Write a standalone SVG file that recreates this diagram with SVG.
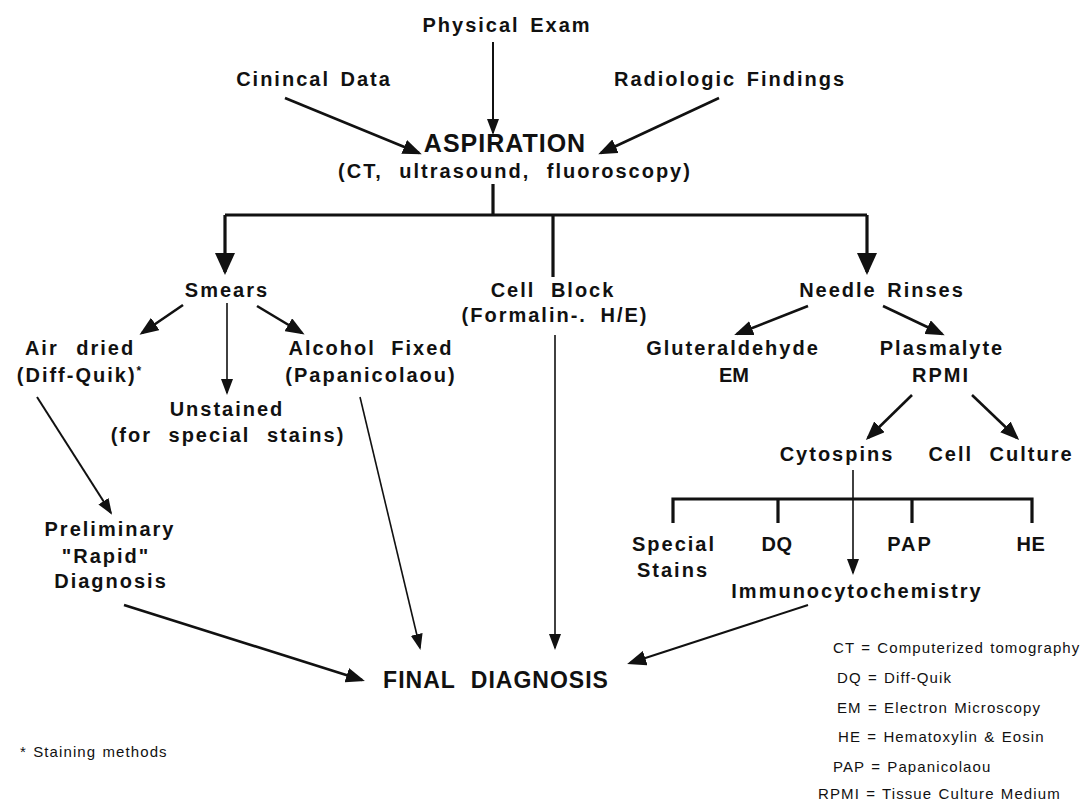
<svg xmlns="http://www.w3.org/2000/svg" width="1089" height="805" viewBox="0 0 1089 805">
<style>
text{font-family:"Liberation Sans",Arial,Helvetica,sans-serif;fill:#111;}
.lb{font-size:20px;font-weight:bold;letter-spacing:2px;word-spacing:3px;text-anchor:middle;}
.big{font-size:25px;font-weight:bold;letter-spacing:1px;text-anchor:middle;}
.fin{font-size:23px;font-weight:bold;letter-spacing:1px;word-spacing:8px;text-anchor:middle;}
.lg{font-size:15px;letter-spacing:1.1px;word-spacing:1px;}
.c{fill:none;stroke:#111;stroke-linecap:butt;stroke-linejoin:miter;}
.t3{stroke-width:3.2;}
.t25{stroke-width:2.6;}
.t2{stroke-width:2;}
.t15{stroke-width:1.6;}
</style>
<defs>
<marker id="mB" markerUnits="userSpaceOnUse" markerWidth="22" markerHeight="20" refX="19" refY="10" orient="auto"><path d="M0,0 L22,10 L0,20 z" fill="#111"/></marker>
<marker id="mM" markerUnits="userSpaceOnUse" markerWidth="19" markerHeight="15" refX="16" refY="7.5" orient="auto"><path d="M0,0 L19,7.5 L0,15 z" fill="#111"/></marker>
<marker id="mS" markerUnits="userSpaceOnUse" markerWidth="16" markerHeight="12" refX="14" refY="6" orient="auto"><path d="M0,0 L16,6 L0,12 z" fill="#111"/></marker>
</defs>

<g id="connectors">
<path class="c t2" d="M493,42 L493,133" marker-end="url(#mS)"/>
<path class="c t25" d="M285,98 L419,153" marker-end="url(#mM)"/>
<path class="c t25" d="M719,98 L601,153" marker-end="url(#mM)"/>
<path class="c t3" d="M493,184 L493,215"/>
<path class="c t3" d="M225,215 L867,215"/>
<path class="c t3" d="M225,215 L225,272" marker-end="url(#mB)"/>
<path class="c t3" d="M553,215 L553,277"/>
<path class="c t3" d="M867,215 L867,272" marker-end="url(#mB)"/>
<path class="c t25" d="M183,305 L142,333" marker-end="url(#mM)"/>
<path class="c t15" d="M227,303 L227,393" marker-end="url(#mS)"/>
<path class="c t25" d="M257,306 L302,333" marker-end="url(#mM)"/>
<path class="c t25" d="M808,306 L737,334" marker-end="url(#mM)"/>
<path class="c t25" d="M883,306 L942,334" marker-end="url(#mM)"/>
<path class="c t25" d="M912,395 L868,438" marker-end="url(#mM)"/>
<path class="c t25" d="M972,395 L1017,438" marker-end="url(#mM)"/>
<path class="c t2" d="M37,397 L111,513" marker-end="url(#mS)"/>
<path class="c t15" d="M360,397 L420,648" marker-end="url(#mS)"/>
<path class="c t15" d="M555,335 L555,648" marker-end="url(#mS)"/>
<path class="c t15" d="M853,470 L853,573" marker-end="url(#mS)"/>
<path class="c t3" d="M673,523 L673,499 L1032,499 L1032,523 M778,499 L778,523 M912,499 L912,523"/>
<path class="c t2" d="M808,605 L630,663" marker-end="url(#mM)"/>
<path class="c t25" d="M124,605 L362,680" marker-end="url(#mM)"/>
</g>

<g id="physical-exam"><text class="lb" x="507" y="32">Physical Exam</text></g>
<g id="clinical-data"><text class="lb" x="314" y="86">Cinincal Data</text></g>
<g id="radiologic-findings"><text class="lb" x="730" y="86">Radiologic Findings</text></g>
<g id="aspiration">
<text class="big" x="505" y="152">ASPIRATION</text>
<text class="lb" x="515" y="178" style="word-spacing:9px">(CT, ultrasound, fluoroscopy)</text>
</g>
<g id="smears"><text class="lb" x="227" y="297">Smears</text></g>
<g id="cell-block">
<text class="lb" x="553" y="297" style="word-spacing:8px">Cell Block</text>
<text class="lb" x="555" y="322" style="word-spacing:6px">(Formalin-. H/E)</text>
</g>
<g id="needle-rinses"><text class="lb" x="882" y="297">Needle Rinses</text></g>
<g id="air-dried">
<text class="lb" x="80" y="355" style="word-spacing:10px">Air dried</text>
<text class="lb" x="80" y="382">(Diff-Quik)<tspan font-size="12" dy="-7">*</tspan></text>
</g>
<g id="unstained">
<text class="lb" x="227" y="416">Unstained</text>
<text class="lb" x="228" y="442" style="word-spacing:9px">(for special stains)</text>
</g>
<g id="alcohol-fixed">
<text class="lb" x="371" y="355" style="word-spacing:8px">Alcohol Fixed</text>
<text class="lb" x="371" y="382">(Papanicolaou)</text>
</g>
<g id="gluteraldehyde">
<text class="lb" x="733" y="355">Gluteraldehyde</text>
<text class="lb" x="734" y="382" style="letter-spacing:0">EM</text>
</g>
<g id="plasmalyte">
<text class="lb" x="942" y="355">Plasmalyte</text>
<text class="lb" x="941" y="382">RPMI</text>
</g>
<g id="cytospins"><text class="lb" x="837" y="461">Cytospins</text></g>
<g id="cell-culture"><text class="lb" x="1001" y="461" style="word-spacing:9px">Cell Culture</text></g>
<g id="special-stains">
<text class="lb" x="674" y="551">Special</text>
<text class="lb" x="673" y="577">Stains</text>
</g>
<g id="dq"><text class="lb" x="777" y="551" style="letter-spacing:0.5px">DQ</text></g>
<g id="pap"><text class="lb" x="910" y="551">PAP</text></g>
<g id="he"><text class="lb" x="1031" y="551" style="letter-spacing:0.5px">HE</text></g>
<g id="immunocytochemistry"><text class="lb" x="857" y="598">Immunocytochemistry</text></g>
<g id="preliminary">
<text class="lb" x="110" y="536">Preliminary</text>
<text class="lb" x="106" y="563">"Rapid"</text>
<text class="lb" x="111" y="588">Diagnosis</text>
</g>
<g id="final-diagnosis"><text class="fin" x="496" y="688">FINAL DIAGNOSIS</text></g>
<g id="legend">
<text class="lg" x="833" y="653">CT = Computerized tomography</text>
<text class="lg" x="837" y="683">DQ = Diff-Quik</text>
<text class="lg" x="837" y="713">EM = Electron Microscopy</text>
<text class="lg" x="838" y="742">HE = Hematoxylin &amp; Eosin</text>
<text class="lg" x="833" y="772">PAP = Papanicolaou</text>
<text class="lg" x="818" y="799">RPMI = Tissue Culture Medium</text>
</g>
<g id="footnote"><text class="lg" x="20" y="757">* Staining methods</text></g>
</svg>
